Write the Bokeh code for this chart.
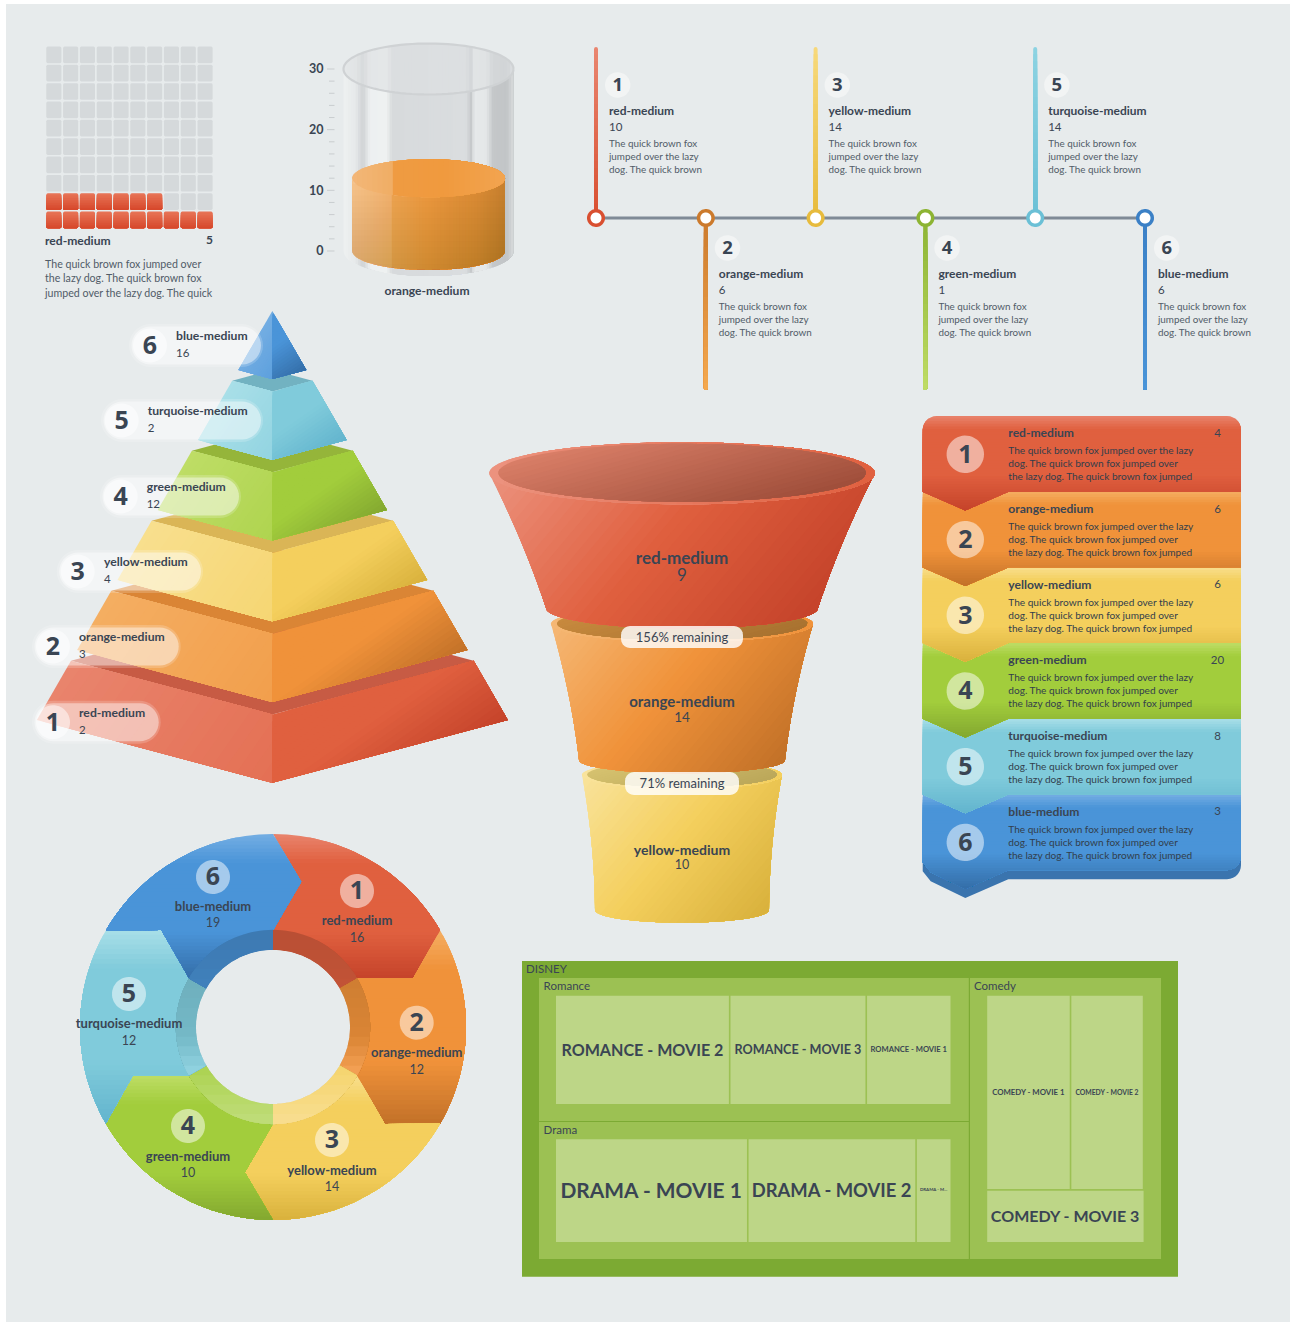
import math
import numpy as np
from bokeh.plotting import figure
from bokeh.models import Range1d
from bokeh.core.properties import value
from bokeh.embed import file_html
from bokeh.resources import INLINE

# ---------- data ----------
NAMES = ["red-medium", "orange-medium", "yellow-medium", "green-medium", "turquoise-medium", "blue-medium"]
waffle_name = "red-medium"
waffle_value = 5
waffle_filled = 17
cylinder_name = "orange-medium"
cylinder_value = 12
cylinder_ticks = [0, 10, 20, 30]
timeline_values = [10, 6, 14, 1, 14, 6]
pyramid_values = [2, 3, 4, 12, 2, 16]
funnel_values = [9, 14, 10]
stack_values = [4, 6, 6, 20, 8, 3]
donut_values = [16, 12, 14, 10, 12, 19]
tree_root = "DISNEY"
romance_labels = ["ROMANCE - MOVIE 2", "ROMANCE - MOVIE 3", "ROMANCE - MOVIE 1"]
romance_values = [14.5, 11.4, 7.1]
drama_labels = ["DRAMA - MOVIE 1", "DRAMA - MOVIE 2", "DRAMA - M..."]
drama_values = [19.6, 17.2, 3.6]
comedy_labels = ["COMEDY - MOVIE 1", "COMEDY - MOVIE 2", "COMEDY - MOVIE 3"]
comedy_values = [16.2, 14.2, 8.2]
waffle_text = ["The quick brown fox jumped over", "the lazy dog. The quick brown fox", "jumped over the lazy dog. The quick"]
timeline_text = ["The quick brown fox", "jumped over the lazy", "dog. The quick brown"]
stack_text = ["The quick brown fox jumped over the lazy", "dog. The quick brown fox jumped over", "the lazy dog. The quick brown fox jumped"]

# ---------- styles ----------
BASE = ["#E0603F", "#F0923A", "#F4CF5D", "#A2CD3C", "#80CBDB", "#4A94D8"]
LIGHT = ["#E9846D", "#F4AE62", "#F8DF8E", "#BEDD66", "#A9DFE8", "#74AEE3"]
DARK = ["#C5432A", "#C27128", "#D9B13C", "#83A830", "#62B4CD", "#346EA8"]
TOP = ["#C75B44", "#DA8535", "#DAB556", "#95B53A", "#72B2C1"]
INK = "#3A4553"
SOFT = "#515C68"
FONT = "Lato"
DIGIT = "Noto Sans"
PANEL = "#E7EBEC"
W, H = 1290, 1322


def rgb(c):
    c = c.lstrip("#")
    return np.array([int(c[i:i + 2], 16) for i in (0, 2, 4)], float)


def mix(a, b, t):
    v = rgb(a) * (1 - t) + rgb(b) * t
    return "#%02X%02X%02X" % tuple(int(round(x)) for x in v)


def at(stops, t):
    if t <= stops[0][0]:
        return stops[0][1]
    for (t0, c0), (t1, c1) in zip(stops, stops[1:]):
        if t <= t1:
            return mix(c0, c1, (t - t0) / max(t1 - t0, 1e-9))
    return stops[-1][1]


p = figure(width=W, height=H, x_range=Range1d(0.5, W + 0.5), y_range=Range1d(H + 0.5, 0.5),
           output_backend="svg", toolbar_location=None, min_border=0,
           background_fill_color="#FFFFFF", border_fill_color="#FFFFFF", outline_line_color=None)
p.xaxis.visible = False
p.yaxis.visible = False
p.grid.visible = False

# cylinder axis scale: its own named range on the same canvas
CYL_K = (251 - 69) / 30.0
p.extra_y_ranges = {"cyl": Range1d((251 - H - 0.5) / CYL_K, (251 - 0.5) / CYL_K)}

buf = dict(xs=[], ys=[], c=[], a=[])
buf_rng = [None]


def flush():
    if buf["xs"]:
        kw = {"y_range_name": buf_rng[0]} if buf_rng[0] else {}
        p.patches(xs="xs", ys="ys", fill_color="c", fill_alpha="a", line_color=None,
                  source=dict(xs=buf["xs"], ys=buf["ys"], c=buf["c"], a=buf["a"]), **kw)
    buf["xs"], buf["ys"], buf["c"], buf["a"] = [], [], [], []


def solid(poly, color, alpha=1.0, rng=None):
    if rng != buf_rng[0]:
        flush()
        buf_rng[0] = rng
    q = np.asarray(poly, float)
    buf["xs"].append(q[:, 0].tolist())
    buf["ys"].append(q[:, 1].tolist())
    buf["c"].append(color)
    buf["a"].append(alpha)


def clip(q, nx, ny, d):
    out = []
    s = nx * q[:, 0] + ny * q[:, 1] - d
    m = len(q)
    for i in range(m):
        j = (i + 1) % m
        if s[i] >= 0:
            out.append(q[i])
        if (s[i] >= 0) != (s[j] >= 0):
            t = s[i] / (s[i] - s[j])
            out.append(q[i] + t * (q[j] - q[i]))
    return np.array(out) if out else None


def grad(poly, stops, angle=90, n=32, rng=None, span=None):
    q = np.asarray(poly, float)
    nx, ny = math.cos(math.radians(angle)), math.sin(math.radians(angle))
    pr = nx * q[:, 0] + ny * q[:, 1]
    lo, hi = (pr.min(), pr.max()) if span is None else span
    if isinstance(stops, tuple):
        stops = [(0, stops[0]), (1, stops[1])]
    solid(q, at(stops, 0.5 / n), rng=rng)
    for i in range(1, n):
        r = clip(q, nx, ny, lo + (hi - lo) * i / n)
        if r is not None and len(r) >= 3:
            solid(r, at(stops, (i + 0.5) / n), rng=rng)


def shade(poly, color, step, angle=90, n=16, rng=None):
    q = np.asarray(poly, float)
    nx, ny = math.cos(math.radians(angle)), math.sin(math.radians(angle))
    pr = nx * q[:, 0] + ny * q[:, 1]
    lo, hi = pr.min(), pr.max()
    for i in range(1, n):
        r = clip(q, nx, ny, lo + (hi - lo) * i / n)
        if r is not None and len(r) >= 3:
            solid(r, color, step, rng=rng)


def ell(cx, cy, rx, ry, a0=0, a1=360, n=90):
    t = np.radians(np.linspace(a0, a1, n))
    return np.column_stack([cx + rx * np.cos(t), cy + ry * np.sin(t)])


def rrect(l, t, r, b, rad, n=6):
    rad = min(rad, (r - l) / 2, (b - t) / 2)
    return np.vstack([ell(r - rad, t + rad, rad, rad, -90, 0, n), ell(r - rad, b - rad, rad, rad, 0, 90, n),
                      ell(l + rad, b - rad, rad, rad, 90, 180, n), ell(l + rad, t + rad, rad, rad, 180, 270, n)])


def txt(x, y, s, size, bold=False, color=INK, align="left", rng=None, alpha=1.0, font=None):
    flush()
    kw = {"y_range_name": rng} if rng else {}
    y = y + 0.7 / CYL_K if rng else y - 0.7
    p.text(x=[x], y=[y], text=[str(s)], text_font=value(font or FONT), text_font_size=value("%gpx" % size),
           text_font_style="bold" if bold else "normal", text_color=color, text_alpha=alpha,
           text_align=align, text_baseline="middle", **kw)


def disc(x, y, r, color, alpha=1.0):
    solid(ell(x, y, r, r, n=48), color, alpha)


solid([(6, 4), (W + 1, 4), (W + 1, H + 1), (6, H + 1)], PANEL)

# ---------- waffle ----------
WX, WY, WPX, WPY, WW, WH = 46.3, 211.6, 16.8, -18.35, 15.1, 16.7
for k in range(100):
    row_i, col = divmod(k, 10)
    l, t = WX + col * WPX, WY + row_i * WPY
    c = rrect(l, t, l + WW, t + WH, 1.5, 3)
    if k < waffle_filled:
        grad(c, ("#E87558", "#D6472A"), n=10)
    else:
        solid(c, "#D5D9DB")
txt(45, 241, waffle_name, 12.1, True)
txt(213, 241, waffle_value, 12, True, align="right")
for i, s in enumerate(waffle_text):
    txt(45, 264 + i * 14.6, s, 10.65, color=SOFT)

# ---------- cylinder ----------
CX, GR = 428.5, 85
GLASS = [(0, "#EEF1F1"), (.07, "#E6E9EA"), (.115, "#CFD2D4"), (.155, "#EDF0F1"), (.255, "#EEF1F1"), (.285, "#D7DADC"),
         (.72, "#DADDDF"), (.75, "#C6C9CB"), (.77, "#E6E9EA"), (.84, "#E4E7E8"), (.88, "#C4C7C9"), (.96, "#C2C5C7"), (1, "#D8DBDC")]
body = np.vstack([ell(CX, 69, GR, 25.5, 180, 360, 40), ell(CX, 251, GR, 25, 0, 180, 40)])
grad(body, GLASS, angle=0, n=70)
BACK = [(t, mix(col, "#DDE0E2", .6)) for t, col in GLASS]
grad(ell(CX, 69, GR, 25.5), BACK, angle=0, n=50)
LR = 76.5
ry_u = 19 / CYL_K
a = ell(CX, cylinder_value, LR, ry_u, 180, 360, 40)
liq = np.vstack([a, ell(CX, 0, LR, -ry_u, 0, 180, 40)])
grad(liq, [(0, "#F6C38A"), (.14, "#F5BB7C"), (.25, "#F4B470"), (.27, "#F0A451"), (.5, "#EE983F"), (.82, "#DC8C36"), (1, "#C8802F")],
     angle=0, n=50, rng="cyl")
shade(liq, "#7A3A00", 0.01, angle=-90, n=16, rng="cyl")
grad(ell(CX, cylinder_value, LR, ry_u), [(0, "#F3B778"), (.25, "#F0AE66"), (.27, "#EF9B42"), (.6, "#F09A3E"), (1, "#F2A450")],
     angle=0, n=30, rng="cyl")
flush()
rim = ell(CX, 69, GR, 25.5)
p.line(rim[:, 0], rim[:, 1], line_color="#CFD2D4", line_width=2.2)
for v in range(0, 31, 2):
    major = v % 10 == 0
    p.segment(x0=[327 if major else 329], x1=[334.5], y0=[v], y1=[v], line_color="#C9CDCF", line_width=1, y_range_name="cyl")
for v in cylinder_ticks:
    txt(323.5, v, v, 12.5, True, align="right", rng="cyl")
txt(427, 291, cylinder_name, 12.1, True, align="center")

# ---------- timeline ----------
TX = [596 + 109.8 * i for i in range(6)]
TY = 218
NEAR = ["#D94F30", "#CC7A2C", "#E7BB3D", "#8DB433", "#6BC0D6", "#3B80C6"]
FAR = ["#E98670", "#F5A94F", "#F7D97B", "#BFDC66", "#8DD3E2", "#4A94D8"]
p.segment(x0=[TX[0]], x1=[TX[-1]], y0=[TY], y1=[TY], line_color="#7F8A96", line_width=3)
for i, x in enumerate(TX):
    if i % 2 == 0:
        grad(rrect(x - 2, 47, x + 2, TY, 2, 3), (FAR[i], NEAR[i]), n=24)
    else:
        grad(rrect(x - 2, TY, x + 2, 390, 2, 3), (NEAR[i], FAR[i]), n=24)
    disc(x, TY, 9, NEAR[i])
    disc(x, TY, 5.5, "#FFFFFF")
    dy = 0 if i % 2 == 0 else 163
    disc(x + 21.7, 85 + dy, 12.7, "#F2F4F4")
    txt(x + 21.7, 85 + dy, i + 1, 18.5, True, align="center", font=DIGIT)
    txt(x + 13, 111 + dy, NAMES[i], 12, True)
    txt(x + 13, 128 + dy, timeline_values[i], 11.5)
    for j, s in enumerate(timeline_text):
        txt(x + 13, 144 + dy + j * 13, s, 9.85, color=SOFT)

# ---------- pyramid ----------
PCX, APEX, SLOPE, DEPTH = 272.3, 311.0, 0.5757, 0.2669
LAYER, GAP = 59.3, 10.7
side = lambda k: APEX + 59 + 70 * k  # bottom side-corner of layer k counted from the apex
for lvl in range(6):
    idx = lvl
    k = 5 - lvl
    yb = side(k)
    wb = (yb - APEX) * SLOPE
    fb = yb + wb * DEPTH
    if k == 0:
        left = [(PCX - wb, yb), (PCX, fb), (PCX, APEX)]
        right = [(PCX, fb), (PCX + wb, yb), (PCX, APEX)]
    else:
        yt = yb - LAYER
        wt = (yt - APEX) * SLOPE
        ft = yt + wt * DEPTH
        solid([(PCX - wt, yt), (PCX, ft), (PCX + wt, yt), (PCX, yt - wt * DEPTH)], TOP[idx])
        left = [(PCX - wb, yb), (PCX, fb), (PCX, ft), (PCX - wt, yt)]
        right = [(PCX, fb), (PCX + wb, yb), (PCX + wt, yt), (PCX, ft)]
    grad(left, [(0, LIGHT[idx]), (1, mix(LIGHT[idx], BASE[idx], .55))], angle=35, n=20)
    grad(right, [(0, BASE[idx]), (.45, BASE[idx]), (1, DARK[idx])], angle=55, n=24)

PILLS = [(32, 160.7, 700.7, 53, 79), (32, 180.7, 625, 53, 79), (56.7, 203, 550, 77.7, 104),
         (100, 241, 475, 120.7, 146.7), (101, 263, 399, 121.7, 147.7), (129, 263, 324, 150, 176)]
for i, (l, r, t, c, tx) in enumerate(PILLS):
    solid(rrect(l, t, r, t + 43, 21.5, 10), "#FFFFFF", 0.18)
    solid(rrect(l + 2.5, t + 2.5, r - 2, t + 40.5, 19, 10), "#FFFFFF", 0.42)
    disc(c, t + 21.5, 17, "#FFFFFF", 0.5)
    txt(c, t + 21.5, i + 1, 25, True, align="center", font=DIGIT)
    txt(tx, t + 12, NAMES[i], 12.2, True)
    txt(tx, t + 30, pyramid_values[i], 11.5)

# ---------- funnel ----------
FX = 682
F = [  # yt, rt, ryt, yb, rb, ryb, inner rx, inner ry, inner colors
    (473.3, 192.8, 31, 608, 136, 20.5, 183.7, 29, "#D97E67", "#9F4E3A"),
    (624, 131, 18, 760, 103, 13.3, 125, 16.5, "#C88A3E", "#A87230"),
    (775, 100, 14, 910, 87, 12.7, 94.7, 12.7, "#D6C26F", "#BBA75A"),
]
for i in (2, 1, 0):
    yt, rt, ryt, yb, rb, ryb, ir, iry, ic0, ic1 = F[i]
    u = np.linspace(0, 1, 24)
    ym = (yt + yb) / 2
    lx = (1 - u) ** 2 * (FX - rt) + 2 * u * (1 - u) * ((FX - (rt + rb) / 2) + 6) + u ** 2 * (FX - rb)
    ly = (1 - u) ** 2 * yt + 2 * u * (1 - u) * ym + u ** 2 * yb
    lside = np.column_stack([lx, ly])
    rside = np.column_stack([2 * FX - lx[::-1], ly[::-1]])
    shape = np.vstack([lside, ell(FX, yb, rb, ryb, 180, 0, 40), rside, ell(FX, yt, rt, ryt, 360, 180, 50)])
    grad(shape, [(0, mix(LIGHT[i], "#FFFFFF", .12)), (.5, BASE[i]), (1, DARK[i])], angle=40, n=40)
    grad(ell(FX, yt, rt, ryt), [(0, mix(LIGHT[i], "#FFFFFF", .12)), (1, BASE[i])], angle=10, n=24)
    grad(ell(FX, yt - .5, ir, iry), (ic0, ic1), angle=75, n=24)
# the three funnel labels
for l, r, t, b in [(621, 743, 626, 648), (625, 739, 772, 795)]:
    solid(rrect(l, t, r, b, 9, 6), "#FFFFFF", 0.82)
txt(FX, 637.5, "%d%% remaining" % round(100 * funnel_values[1] / funnel_values[0]), 13, align="center")
txt(FX, 784, "%d%% remaining" % round(100 * funnel_values[2] / funnel_values[1]), 13, align="center")
for i, (y0, y1, s) in enumerate([(558, 575, 17), (702, 718, 15), (850, 865, 14)]):
    txt(FX, y0, NAMES[i], s, True, align="center")
    txt(FX, y1, funnel_values[i], s - 1.5 if i else s, align="center")

# ---------- stacked chevrons ----------
SL, SR, ST, SH, TIP = 922.7, 1241, 416, 75.7, 18.7
SXT, SXN = 965.3, 1008.3
Y = [ST + SH * i for i in range(7)]


def chev(i, dy=0):
    t, b = Y[i] + dy, Y[i + 1] + dy
    pts = []
    if i == 0:
        pts += list(ell(SL + 14, t + 14, 14, 14, 180, 270, 8)) + list(ell(SR - 14, t + 14, 14, 14, 270, 360, 8))
    else:
        pts += [(SL, t), (SR, t)]
    if i == 5:
        pts += list(ell(SR - 14, b - 14, 14, 14, 0, 90, 8))
    else:
        pts += [(SR, b)]
    pts += [(SXN, b), (SXT, b + TIP)]
    if i == 5:
        pts += [(SL + 8, b + 2), (SL, b - 8)]
    else:
        pts += [(SL, b)]
    return np.array([tuple(x) for x in pts], float)


solid(chev(5, 9), "#3A74AE")
for i in range(5, -1, -1):
    grad(chev(i), [(0, LIGHT[i]), (.14, BASE[i]), (.62, BASE[i]), (1, DARK[i])], n=36)
for i in range(6):
    y0 = Y[i]
    cy = y0 + (38.3 if i == 0 else 47.9)
    disc(SXT, cy, 18.7, "#FFFFFF", 0.5)
    txt(SXT, cy, i + 1, 25, True, align="center", font=DIGIT)
    txt(SXN, y0 + 17.5, NAMES[i], 12.1, True)
    txt(1217.5, y0 + 17.5, stack_values[i], 11.5, align="center")
    for j, s in enumerate(stack_text):
        txt(SXN, y0 + 35 + j * 12.9, s, 10.1, color="#323E4B")

# ---------- donut ----------
DX, DY, RO, RM, RI, RT, TA = 273, 1027, 193, 96.7, 77, 148, 11


def pol(r, deg):
    th = math.radians(deg)
    return (DX + r * math.sin(th), DY - r * math.cos(th))


for i in range(6):
    a0 = i * 60
    outer = [pol(RO, a0 + d) for d in np.linspace(0, 60, 30)]
    inner = [pol(RM, a0 + d) for d in np.linspace(60, 0, 20)]
    poly = outer + [pol(RT, a0 + 60 + TA), pol(RM, a0 + 60)] + inner[1:-1] + [pol(RM, a0), pol(RT, a0 + TA)]
    grad(poly, [(0, LIGHT[i]), (.2, BASE[i]), (.68, BASE[i]), (1, DARK[i])], n=40)
    ring = [pol(RM + .5, a0 + d) for d in np.linspace(0, 60, 24)] + [pol(RI, a0 + d) for d in np.linspace(60, 0, 24)]
    grad(ring, [(0, mix(BASE[i], "#000000", .18)), (.55, mix(BASE[i], "#000000", .09)), (.72, mix(BASE[i], "#FFFFFF", .12)),
                (1, mix(BASE[i], "#FFFFFF", .32))], n=20, span=(DY - RM, DY + RM))
disc(DX, DY, RI, PANEL)
LBL = [(84, -136, -106, -89), (143.7, -4.3, 26, 43), (59, 113, 144, 160), (-85, 99, 130, 146), (-144, -33, -3, 13.7), (-60, -150, -120, -104)]
for i, (dx, cy, ny, vy) in enumerate(LBL):
    disc(DX + dx, DY + cy, 17, "#FFFFFF", 0.5)
    txt(DX + dx, DY + cy, i + 1, 25, True, align="center", font=DIGIT)
    txt(DX + dx, DY + ny, NAMES[i], 13, True, align="center")
    txt(DX + dx, DY + vy, donut_values[i], 12.5, align="center")

# ---------- treemap ----------
solid([(522, 961), (1178, 961), (1178, 1276.7), (522, 1276.7)], "#7CAA33")
for l, t, r, b in [(539, 978, 968.8, 1121), (539, 1122, 968.8, 1259), (970, 978, 1161, 1259)]:
    solid([(l, t), (r, t), (r, b), (l, b)], "#9CC153")
CELL = "#BDD687"


def cell(l, t, r, b, label, size):
    solid([(l, t), (r, t), (r, b), (l, b)], CELL)
    txt((l + r) / 2, (t + b) / 2, label, size, True, align="center")


def row(l, r, t, b, vals, labels, sizes):
    tot = sum(vals)
    x = l
    for v, s, z in zip(vals, labels, sizes):
        w = (r - l) * v / tot
        cell(x + 0.8 if x > l else x, t, x + w - 0.8, b, s, z)
        x += w


row(556, 951.3, 995.7, 1104, romance_values, romance_labels, [16.1, 12.6, 7.6])
row(556, 951.3, 1139.3, 1242, drama_values, drama_labels, [20.9, 18.4, 4.4])
row(987.2, 1143.6, 995.7, 1189, comedy_values[:2], comedy_labels[:2], [7.8, 6.8])
cell(987.2, 1190.7, 1143.6, 1242, comedy_labels[2], 16)
txt(526, 969, tree_root, 11.5)
txt(543.6, 986, "Romance", 11.5)
txt(974, 986, "Comedy", 11.5)
txt(543.6, 1130, "Drama", 11.5)
flush()

open("out.html", "w").write(file_html(p, INLINE))
